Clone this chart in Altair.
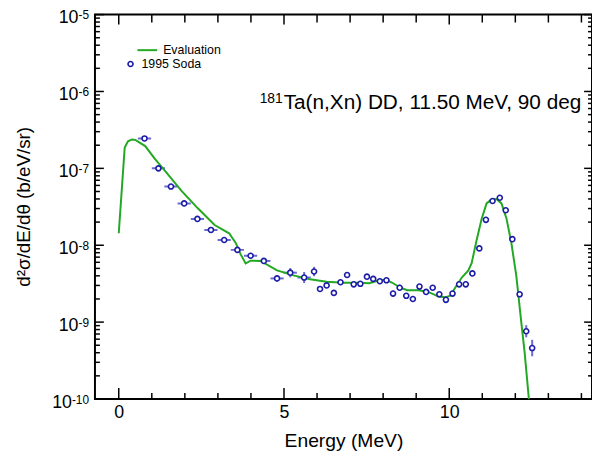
import altair as alt
import pandas as pd

# ---- Evaluation curve ----
eval_E = [0.0, 0.18, 0.28, 0.40, 0.50, 0.80, 1.10, 1.40, 1.90, 2.40, 2.90, 3.09, 3.34, 3.54, 3.69,
          3.84, 3.99, 4.29, 4.79, 5.29, 5.79, 6.29, 6.79, 7.28, 7.58, 7.88, 8.08, 8.28, 8.53,
          8.73, 9.08, 9.38, 9.68, 9.88, 10.03, 10.18, 10.38, 10.58, 10.68, 10.83, 10.98, 11.13,
          11.28, 11.43, 11.58, 11.73, 11.88, 12.03, 12.18, 12.28, 12.41, 12.46]
eval_y = [1.43e-8, 1.86e-7, 2.25e-7, 2.38e-7, 2.35e-7, 1.95e-7, 1.32e-7, 9.3e-8, 5.1e-8, 3.0e-8,
          1.83e-8, 1.65e-8, 1.43e-8, 1.07e-8, 7.6e-9, 5.8e-9, 6.3e-9, 6.25e-9, 4.7e-9, 4.05e-9,
          3.6e-9, 3.35e-9, 3.25e-9, 3.25e-9, 3.2e-9, 3.5e-9, 3.55e-9, 3.25e-9, 2.8e-9, 2.6e-9,
          2.6e-9, 2.45e-9, 2.15e-9, 2.1e-9, 2.2e-9, 2.8e-9, 3.8e-9, 4.7e-9, 5.9e-9, 1.17e-8,
          2.2e-8, 3.5e-8, 3.95e-8, 4.0e-8, 3.5e-8, 2.25e-8, 1.07e-8, 4.0e-9, 1.0e-9, 4.1e-10,
          1.0e-10, 6e-11]

# ---- 1995 Soda data ----
exp_E = [0.78, 1.20, 1.58, 1.98, 2.38, 2.79, 3.19, 3.59, 3.99, 4.39, 4.79, 5.19, 5.61, 5.91,
         6.09, 6.29, 6.51, 6.71, 6.91, 7.11, 7.31, 7.51, 7.70, 7.90, 8.10, 8.30, 8.50, 8.70,
         8.90, 9.10, 9.30, 9.50, 9.70, 9.90, 10.10, 10.30, 10.50, 10.70, 10.91, 11.11, 11.31,
         11.53, 11.71, 11.91, 12.13, 12.33, 12.51]
exp_y = [2.45e-7, 1.0e-7, 5.8e-8, 3.5e-8, 2.2e-8, 1.58e-8, 1.17e-8, 8.7e-9, 7.3e-9, 6.25e-9,
         3.7e-9, 4.4e-9, 3.8e-9, 4.55e-9, 2.7e-9, 3.0e-9, 2.4e-9, 3.3e-9, 4.1e-9, 3.1e-9,
         3.15e-9, 3.9e-9, 3.65e-9, 3.4e-9, 3.5e-9, 2.35e-9, 2.8e-9, 2.2e-9, 2.0e-9, 2.9e-9,
         2.47e-9, 2.8e-9, 2.3e-9, 1.95e-9, 2.35e-9, 3.1e-9, 3.1e-9, 4.3e-9, 9.1e-9, 2.14e-8,
         3.76e-8, 4.15e-8, 2.85e-8, 1.2e-8, 2.3e-9, 7.6e-10, 4.6e-10]
exp_dE = [0.2] * 13 + [0.0] * 34
exp_dy = [0.06, 0.05, 0.06, 0.06, 0.06, 0.06, 0.07, 0.08, 0.06, 0.06, 0.10, 0.15, 0.18, 0.15,
          0.06, 0.06, 0.06, 0.06, 0.06, 0.06, 0.06, 0.06, 0.06, 0.06, 0.06, 0.06, 0.10, 0.06,
          0.06, 0.06, 0.06, 0.06, 0.06, 0.10, 0.06, 0.06, 0.06, 0.06, 0.05, 0.05, 0.05, 0.05,
          0.05, 0.05, 0.08, 0.20, 0.28]

# ---- axes / ticks ----
x_major = [0, 5, 10]
x_minor = [1, 2, 3, 4, 6, 7, 8, 9, 11, 12, 13, 14]
y_major = [1e-10, 1e-9, 1e-8, 1e-7, 1e-6, 1e-5]
y_exp = ["-10", "-9", "-8", "-7", "-6", "-5"]
y_minor = [k * 10.0 ** e for e in range(-10, -5) for k in range(2, 10)]

title_text = "Ta(n,Xn) DD, 11.50 MeV, 90 deg"
title_sup = "181"

W, H = 503, 389
FONT = "Liberation Sans"
GREEN = "#22a822"
BLUE = "#1c1ca8"
EBLUE = "#6a6ad0"
EXP_FS = 12
BASE_FS = 18

xs = alt.Scale(domain=[-0.72, 14.32], nice=False, zero=False)
ys = alt.Scale(type="log", domain=[1e-10, 1e-5], nice=False)
xax = alt.Axis(values=x_major, ticks=False, domain=False, grid=False, labelFontSize=18,
               labelFont=FONT, labelColor="black", labelPadding=5, title="Energy (MeV)",
               titleFont=FONT, titleFontSize=19.5, titleFontWeight="normal", titleColor="black",
               titlePadding=10)

ev = pd.DataFrame({"E": eval_E, "y": eval_y})
ex = pd.DataFrame({"E": exp_E, "y": exp_y, "dE": exp_dE, "dy": exp_dy})
ex["E0"] = ex["E"] - ex["dE"]
ex["E1"] = ex["E"] + ex["dE"]
ex["y0"] = ex["y"] / (1 + ex["dy"])
ex["y1"] = ex["y"] * (1 + ex["dy"])

dxM = pd.DataFrame({"E": x_major})
dxm = pd.DataFrame({"E": x_minor})
dyM = pd.DataFrame({"y": y_major, "ex": y_exp})
# label layout: whole "10^e" group right-aligned next to the axis
dyM["ex_w"] = [EXP_FS * (0.333 + 0.556 * (len(s) - 1)) for s in y_exp]
dyM["bx"] = -6 - dyM["ex_w"]
dym = pd.DataFrame({"y": y_minor})
one = pd.DataFrame({"a": [0]})

X = lambda f="E": alt.X(f + ":Q", scale=xs, axis=xax)
Y = lambda f="y": alt.Y(f + ":Q", scale=ys, axis=None)

def xtick(df, y_a, y_b):
    return alt.Chart(df).mark_rule(color="black", strokeWidth=1.5).encode(
        x=X(), y=alt.value(y_a), y2=alt.value(y_b))

def ytick(df, x_a, x_b):
    return alt.Chart(df).mark_rule(color="black", strokeWidth=1.5).encode(
        x=alt.value(x_a), x2=alt.value(x_b), y=Y())

layers = [
    xtick(dxM, H, H - 11), xtick(dxm, H, H - 6),
    xtick(dxM, 0, 10), xtick(dxm, 0, 8),
    ytick(dyM, 0, 9), ytick(dym, 0, 5),
    ytick(dyM, W, W - 8), ytick(dym, W, W - 4),
    # error bars
    alt.Chart(ex).mark_rule(color=EBLUE, strokeWidth=2, clip=True).encode(
        x=X("E0"), x2="E1:Q", y=Y()),
    alt.Chart(ex).mark_rule(color=EBLUE, strokeWidth=2, clip=True).encode(
        x=X(), y=Y("y0"), y2="y1:Q"),
    # evaluation curve
    alt.Chart(ev).mark_line(color=GREEN, strokeWidth=2, clip=True).encode(x=X(), y=Y()),
    # data points
    alt.Chart(ex).mark_point(shape="circle", filled=True, fill="white", stroke=BLUE,
                             size=26, strokeWidth=1.6, opacity=1, fillOpacity=1).encode(
        x=X(), y=Y()),
    # y tick labels
    alt.Chart(dyM).mark_text(align="right", baseline="alphabetic", fontSize=BASE_FS, font=FONT,
                             color="black", dy=9).encode(
        x=alt.X("bx:Q", scale=None), y=Y(), text=alt.value("10")),
    alt.Chart(dyM).mark_text(align="right", baseline="alphabetic", fontSize=EXP_FS, font=FONT,
                             color="black", dy=4.7).encode(
        x=alt.value(-6), y=Y(), text="ex:N"),
    # y title
    alt.Chart(one).mark_text(angle=270, align="center", baseline="middle", fontSize=19,
                             font=FONT, color="black").encode(
        x=alt.value(-72), y=alt.value(H / 2), text=alt.value("d²σ/dE/dθ (b/eV/sr)")),
    # annotation
    alt.Chart(one).mark_text(align="left", baseline="alphabetic", fontSize=21, font=FONT,
                             color="black").encode(
        x=alt.value(191), y=alt.value(96), text=alt.value(title_text)),
    alt.Chart(one).mark_text(align="right", baseline="alphabetic", fontSize=14, font=FONT,
                             color="black").encode(
        x=alt.value(190), y=alt.value(89), text=alt.value(title_sup)),
    # legend
    alt.Chart(one).mark_rule(color=GREEN, strokeWidth=2).encode(
        x=alt.value(43), x2=alt.value(63), y=alt.value(36)),
    alt.Chart(one).mark_text(align="left", baseline="middle", fontSize=12.5, font=FONT,
                             color="black").encode(
        x=alt.value(69), y=alt.value(36), text=alt.value("Evaluation")),
    alt.Chart(one).mark_point(shape="circle", filled=True, fill="white", stroke=BLUE,
                              size=26, strokeWidth=1.6, opacity=1, fillOpacity=1).encode(
        x=alt.value(36), y=alt.value(50)),
    alt.Chart(one).mark_text(align="left", baseline="middle", fontSize=12.5, font=FONT,
                             color="black").encode(
        x=alt.value(47), y=alt.value(50), text=alt.value("1995 Soda")),
]

chart = alt.layer(*layers).properties(
    width=W, height=H,
    autosize=alt.AutoSizeParams(type="none"),
    padding={"left": 88, "top": 4, "right": 0, "bottom": 54},
    background="white",
).configure_view(stroke="black", strokeWidth=2)

chart.save("out.html", embed_options={"renderer": "svg", "actions": False})
